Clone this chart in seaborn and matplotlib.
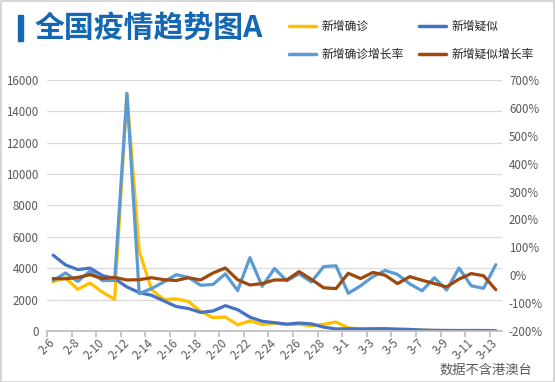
import matplotlib.pyplot as plt
import seaborn as sns
from matplotlib.lines import Line2D
from matplotlib.patches import Rectangle
from matplotlib.ticker import FuncFormatter

dates = ["2-6", "2-7", "2-8", "2-9", "2-10", "2-11", "2-12", "2-13", "2-14",
         "2-15", "2-16", "2-17", "2-18", "2-19", "2-20", "2-21", "2-22", "2-23",
         "2-24", "2-25", "2-26", "2-27", "2-28", "2-29", "3-1", "3-2", "3-3",
         "3-4", "3-5", "3-6", "3-7", "3-8", "3-9", "3-10", "3-11", "3-12", "3-13"]

# 新增确诊 / 新增疑似 (左轴)
confirmed = [3143, 3399, 2656, 3062, 2478, 2015, 15152, 5090, 2641, 2009, 2048,
             1886, 1250, 850, 889, 397, 648, 409, 508, 406, 433, 327, 427, 573,
             202, 125, 119, 139, 143, 99, 44, 40, 19, 24, 15, 8, 11]
suspected = [4833, 4214, 3916, 4008, 3536, 3342, 2807, 2450, 2277, 1918, 1563,
             1432, 1185, 1277, 1614, 1361, 882, 620, 530, 439, 508, 452, 248,
             132, 141, 129, 143, 143, 102, 99, 60, 41, 36, 31, 33, 33, 17]

# 增长率 (右轴, %)
confirmed_rate = [-19, 8, -22, 15, -19, -19, 652, -66, -48, -24, 2, -8, -36,
                  -33, 5, -55, 63, -40, 24, -20, 5, -24, 31, 34, -65, -38, -5,
                  17, 3, -31, -56, -9, -53, 26, -38, -47, 38]
suspected_rate = [-12, -13, -8, 2, -12, -8, -17, -16, -9, -16, -19, -9, -17, 8,
                  26, -16, -35, -30, -17, -17, 13, -15, -45, -48, 7, -12, 10, 0,
                  -30, -5, -18, -30, -42, -14, 6, -2, -52]

c_conf = "#FFC000"
c_susp = "#4472C4"
c_conf_rate = "#5B9BD5"
c_susp_rate = "#9E480E"
gray = "#595959"
title_blue = "#1468B3"

sns.set_theme(style="white")
plt.rcParams["font.family"] = ["Noto Sans CJK SC", "DejaVu Sans"]

fig = plt.figure(figsize=(5.55, 3.82), dpi=100)
ax = fig.add_axes([47 / 555, 1 - 331 / 382, 455 / 555, 251 / 382])

x = list(range(len(dates)))
lw = 2.3
sns.lineplot(x=x, y=confirmed, color=c_conf, lw=lw, ax=ax)
sns.lineplot(x=x, y=suspected, color=c_susp, lw=lw, ax=ax)

ax2 = ax.twinx()
sns.lineplot(x=x, y=confirmed_rate, color=c_conf_rate, lw=lw, ax=ax2)
sns.lineplot(x=x, y=suspected_rate, color=c_susp_rate, lw=lw, ax=ax2)

ax.set_xlim(-0.5, 36.5)
ax.set_ylim(0, 16000)
ax.set_yticks(range(0, 16001, 2000))
ax2.set_ylim(-200, 700)
ax2.set_yticks(range(-200, 701, 100))
ax2.yaxis.set_major_formatter(FuncFormatter(lambda v, p: f"{v:.0f}%"))

ax.yaxis.grid(True, color="#d9d9d9", lw=0.9)
ax.xaxis.grid(False)
ax2.grid(False)
for s in ["top", "left", "right"]:
    ax.spines[s].set_visible(False)
ax.spines["bottom"].set_color("#bfbfbf")
for s in ax2.spines.values():
    s.set_visible(False)

# 刻度线在类别边界, 标签在类别中心
ax.set_xticks([i - 0.5 for i in range(0, 37, 2)])
ax.set_xticklabels([])
ax.set_xticks(range(0, 37, 2), minor=True)
ax.set_xticklabels(dates[::2], minor=True, rotation=45, ha="right",
                   va="center", rotation_mode="anchor")
ax.tick_params(axis="x", which="major", length=4, color="#bfbfbf",
               direction="out", bottom=True)
ax.tick_params(axis="x", which="minor", length=0, pad=7, labelsize=8.3,
               labelcolor=gray)
ax.tick_params(axis="y", length=0, pad=6, labelsize=8.3, labelcolor=gray)
ax2.tick_params(axis="y", length=0, pad=5, labelsize=8.3, labelcolor=gray)
ax.set_xlabel("")
ax.set_ylabel("")
ax2.set_ylabel("")

# 标题
fig.patches.append(Rectangle((18 / 555, 1 - 41 / 382), 5 / 555, 26 / 382,
                             transform=fig.transFigure, color=title_blue))
fig.text(35 / 555, 1 - 28 / 382, "全国疫情趋势图A", fontsize=21.5,
         fontweight="bold", color=title_blue, va="center", ha="left")

# 图例
handles = [Line2D([], [], color=c_conf, lw=2.5),
           Line2D([], [], color=c_conf_rate, lw=2.5),
           Line2D([], [], color=c_susp, lw=2.5),
           Line2D([], [], color=c_susp_rate, lw=2.5)]
labels = ["新增确诊", "新增确诊增长率", "新增疑似", "新增疑似增长率"]
fig.legend(handles, labels, ncol=2, loc="upper left",
           bbox_to_anchor=(289 / 555, 1 - 20 / 382), frameon=False,
           fontsize=8.5, handlelength=2.3, handletextpad=0.45,
           columnspacing=1.3, labelspacing=1.25, borderpad=0,
           borderaxespad=0, labelcolor="#262626")

fig.text(532 / 555, 1 - 370 / 382, "数据不含港澳台", ha="right", va="center",
         fontsize=9.5, color=gray)

fig.patches.append(Rectangle((0.001, 0.001), 0.997, 0.997,
                             transform=fig.transFigure, fill=False,
                             edgecolor="#d0d0d0", lw=1.2))

fig.savefig("out.png", dpi=100)
